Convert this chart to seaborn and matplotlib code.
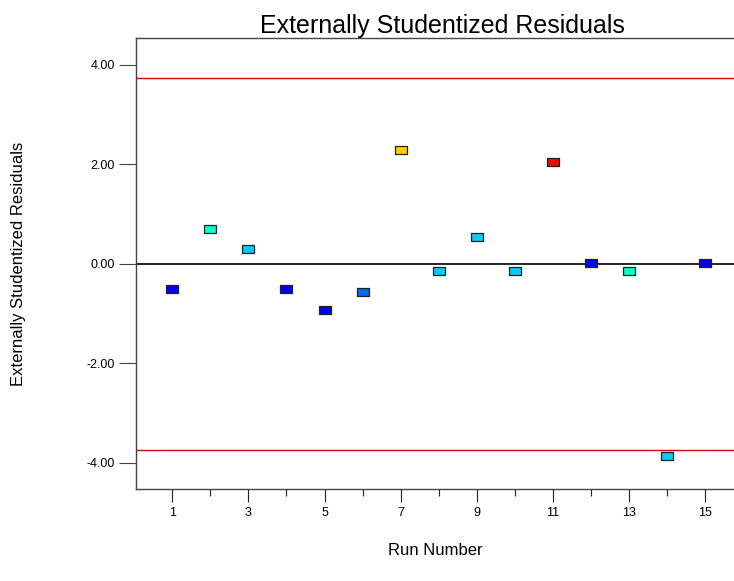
import numpy as np
import pandas as pd
import matplotlib
matplotlib.use("Agg")
import matplotlib.pyplot as plt
import seaborn as sns

sns.set_style("white")
plt.rcParams['font.family'] = ['Liberation Sans', 'DejaVu Sans']
plt.rcParams['text.color'] = 'black'
plt.rcParams['axes.labelcolor'] = 'black'
plt.rcParams['xtick.color'] = 'black'
plt.rcParams['ytick.color'] = 'black'

# data
run_number = [1, 2, 3, 4, 5, 6, 7, 8, 9, 10, 11, 12, 13, 14, 15]
residuals = [-0.50, 0.70, 0.30, -0.50, -0.92, -0.56, 2.29, -0.14, 0.54,
             -0.14, 2.05, 0.02, -0.14, -3.86, 0.02]
point_colors = ['#0000ff', '#00ffcc', '#00ccff', '#0000ff', '#0000ff', '#0066ff',
                '#ffcc00', '#00ccff', '#00ccff', '#00ccff', '#ff0000', '#0000ff',
                '#00ffcc', '#00ccff', '#0000ff']
limit = 3.74
y_ticks = [-4, -2, 0, 2, 4]
x_major = [1, 3, 5, 7, 9, 11, 13, 15]

df = pd.DataFrame({"run": run_number, "resid": residuals, "c": point_colors})

fig = plt.figure(figsize=(7.34, 5.81), dpi=100)
ax = fig.add_axes([0.1853, 0.1583, 0.8147, 0.7763])

# limit lines and zero line
ax.axhline(limit, color='#e00000', lw=1)
ax.axhline(-limit, color='#e00000', lw=1)
ax.axhline(0, color='black', lw=1.2)

# rectangular marker
rect = [(-1.5, -1), (1.5, -1), (1.5, 1), (-1.5, 1), (-1.5, -1)]
sns.scatterplot(data=df, x="run", y="resid", hue="c", palette={c: c for c in point_colors},
                marker=rect, s=75, edgecolor='#222222', linewidth=0.9,
                legend=False, ax=ax, zorder=3)

ax.set_xlim(0.05, 15.75)
ax.set_ylim(-4.53, 4.54)
ax.set_yticks(y_ticks)
ax.set_yticklabels([f"{v:.2f}" for v in y_ticks], fontsize=9)
ax.set_xticks(x_major)
ax.set_xticklabels([str(v) for v in x_major], fontsize=9)
ax.set_xticks(range(2, 15, 2), minor=True)

ax.tick_params(axis='y', which='major', direction='out', length=12, width=0.8,
               color='#444444', left=True, pad=3)
ax.tick_params(axis='x', which='major', direction='out', length=9, width=0.8,
               color='#222222', bottom=True, pad=4)
ax.tick_params(axis='x', which='minor', direction='out', length=5, width=0.8,
               color='#222222', bottom=True)

for s in ['left', 'bottom', 'top']:
    ax.spines[s].set_visible(True)
    ax.spines[s].set_color('#444444')
    ax.spines[s].set_linewidth(1)
ax.spines['right'].set_visible(False)

ax.set_title("Externally Studentized Residuals", fontsize=18, pad=3, x=0.513)
ax.set_xlabel("Run Number", fontsize=12)
ax.set_ylabel("Externally Studentized Residuals", fontsize=12)
ax.xaxis.set_label_coords(0.5, -0.12)
ax.yaxis.set_label_coords(-0.184, 0.5)

fig.savefig("out.png", dpi=100)
